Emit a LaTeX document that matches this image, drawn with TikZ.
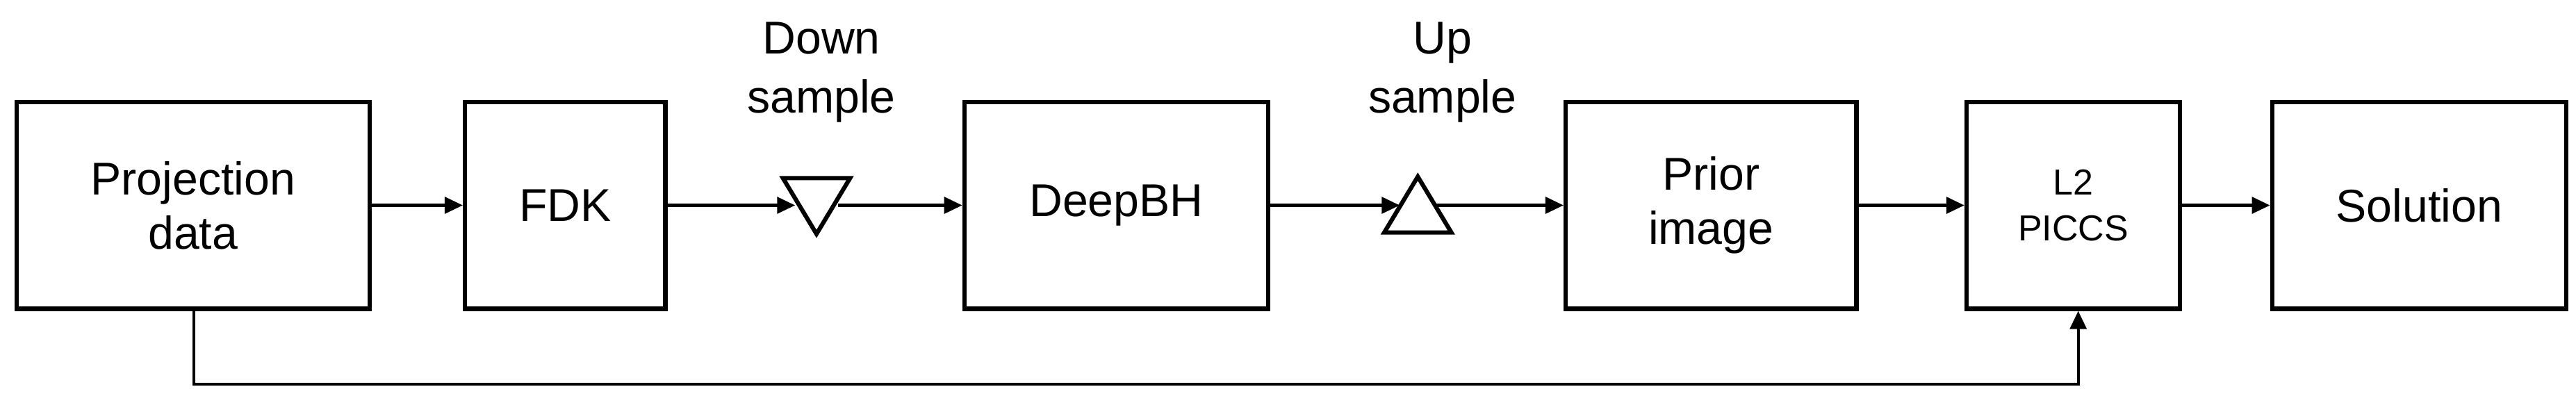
\documentclass[tikz,border=0pt]{standalone}
\usepackage{fontspec}
\setmainfont{Liberation Sans}
\usetikzlibrary{arrows.meta,shapes.geometric,calc}
\begin{document}
\begin{tikzpicture}[x=1pt,y=-1pt,
  box/.style={draw,line width=2.6pt,inner sep=0pt,align=center,font=\fontsize{28}{33}\selectfont},
  tri/.style={draw,fill=white,line width=2.6pt,isosceles triangle,isosceles triangle apex angle=62,inner sep=0pt,minimum height=34pt},
  lbl/.style={align=center,font=\fontsize{28}{36}\selectfont},
  arr/.style={line width=1.8pt,-{Triangle[length=11pt,width=10pt]}}]
\useasboundingbox (0,0) rectangle (1568,241);
\node[box,minimum width=215pt,minimum height=126pt] (pd) at (117.5,125) {Projection\\data};
\node[box,minimum width=122pt,minimum height=126pt] (fdk) at (344,125) {FDK};
\node[box,minimum width=185pt,minimum height=126pt] (dbh) at (679.5,125) {DeepBH};
\node[box,minimum width=177pt,minimum height=126pt] (pri) at (1041.5,125) {Prior\\image};
\node[box,minimum width=130pt,minimum height=126pt,font=\fontsize{22}{28}\selectfont] (l2) at (1262,125) {L2\\PICCS};
\node[box,minimum width=179pt,minimum height=126pt] (sol) at (1472.5,125) {Solution};
\node[lbl] (ld) at (500,44) {Down\\sample};
\node[lbl] (lu) at (878,44) {Up\\sample};
\coordinate (c1) at (118,234);
\coordinate (c2) at (1265,234);
\coordinate (dl) at (484,125);
\coordinate (dr) at (510,125);
\coordinate (ul) at (852,125);
\coordinate (ur) at (874,125);
\draw[arr] (pd.east) -- (fdk.west);
\draw[arr] (fdk.east) -- (dl);
\draw[arr] (dr) -- (dbh.west);
\draw[arr] (dbh.east) -- (ul);
\draw[arr] (ur) -- (pri.west);
\node[tri,shape border rotate=-90] (down) at (497,120) {};
\node[tri,shape border rotate=90] (up) at (863,130) {};
\draw[arr] (pri.east) -- (l2.west);
\draw[arr] (l2.east) -- (sol.west);
\draw[arr] (pd.south -| c1) -- (c1) -- (c2) -- (l2.south -| c2);
\end{tikzpicture}
\end{document}
